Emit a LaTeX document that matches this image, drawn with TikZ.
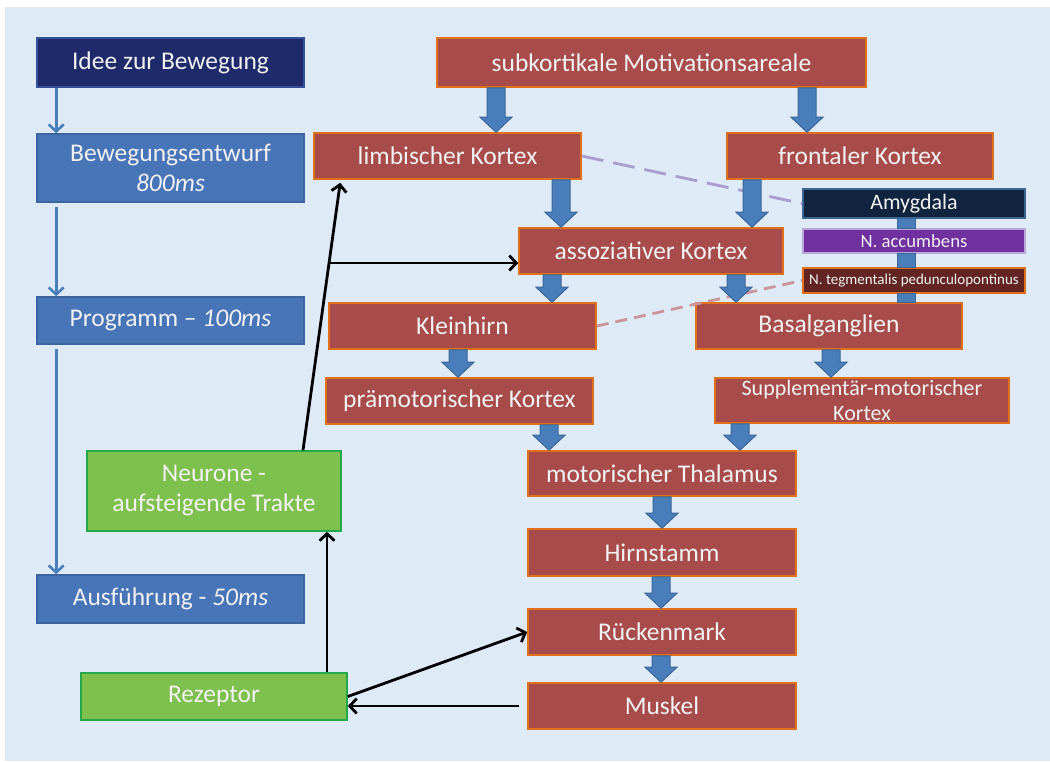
\documentclass[tikz,border=0pt]{standalone}
\usepackage{fontspec}
\setmainfont{Carlito}
\usetikzlibrary{arrows.meta,calc}
\definecolor{panel}{HTML}{DEEAF6}
\definecolor{txt}{HTML}{F2F2F2}
\definecolor{navy}{HTML}{1F2A6A}
\definecolor{navyb}{HTML}{34509A}
\definecolor{bblue}{HTML}{4874B8}
\definecolor{bblueb}{HTML}{3B64A0}
\definecolor{bred}{HTML}{A84B4B}
\definecolor{borange}{HTML}{E0701A}
\definecolor{bgreen}{HTML}{7EC04D}
\definecolor{bgreenb}{HTML}{24A84A}
\definecolor{amygf}{HTML}{11243F}
\definecolor{amygb}{HTML}{3B6694}
\definecolor{accbf}{HTML}{7030A0}
\definecolor{accbb}{HTML}{B8A8D8}
\definecolor{tegmf}{HTML}{632523}
\definecolor{barrowc}{HTML}{4A7EBB}
\definecolor{barrowb}{HTML}{3A6699}
\definecolor{dpurplec}{HTML}{A89CD0}
\definecolor{dpinkc}{HTML}{C9959B}
\newcommand\fA{\fontsize{25.5}{30}\selectfont}
\newcommand\fB{\fontsize{22}{25}\selectfont}
\newcommand\fAm{\fontsize{22}{24}\selectfont}
\newcommand\fAc{\fontsize{18.7}{20}\selectfont}
\newcommand\fTg{\fontsize{15}{17}\selectfont}
\newcommand\barrow[3]{%
 \filldraw[barrowsty] let \p1=(#1.south), \p2=(#2.north) in
 ({#3pt-9pt},{\y1}) -- ({#3pt+9pt},{\y1}) -- ({#3pt+9pt},{\y2+15pt}) -- ({#3pt+16pt},{\y2+15pt}) -- ({#3pt},{\y2}) -- ({#3pt-16pt},{\y2+15pt}) -- ({#3pt-9pt},{\y2+15pt}) -- cycle;}
\tikzset{
 bx/.style={draw, line width=1.6pt, inner sep=0pt, align=center, text=txt, font=\fA},
 bluebox/.style={bx, fill=bblue, draw=bblueb, minimum width=267pt},
 redbox/.style={bx, fill=bred, draw=borange},
 greenbox/.style={bx, fill=bgreen, draw=bgreenb},
 smallbox/.style={bx, minimum width=222pt, line width=1.6pt},
 blk/.style={line width=2.8pt, black, -{Straight Barb[length=7pt,width=15pt]}},
 thinarr/.style={line width=2.6pt, draw=barrowc, -{Straight Barb[length=7pt,width=15pt]}},
 barrowsty/.style={fill=barrowc, draw=barrowb, line width=1pt, line join=miter},
 dpurple/.style={draw=dpurplec, line width=2.8pt, dash pattern=on 22pt off 10pt},
 dpink/.style={draw=dpinkc, line width=2.8pt, dash pattern=on 12pt off 7pt},
}
\begin{document}
\begin{tikzpicture}[x=1pt,y=-1pt]
\useasboundingbox (0,0) rectangle (1050,761);
\fill[white] (0,0) rectangle (1050,761);
\fill[panel] (5,7) rectangle (1050,761);
% left column
\node[bluebox, fill=navy, draw=navyb, minimum height=49pt] (idee) at (170.5,62.5) {Idee zur Bewegung};
\node[bluebox, minimum height=68pt] (bew) at (170.5,168) {Bewegungsentwurf\\\textit{800ms}};
\node[bluebox, minimum height=47pt] (prog) at (170.5,320.5) {Programm -- \textit{100ms}};
\node[bluebox, minimum height=48pt] (ausf) at (170.5,599) {Ausführung - \textit{50ms}};
\node[greenbox, minimum width=254pt, minimum height=80pt] (neur) at (214,491) {Neurone -\\aufsteigende Trakte};
\node[greenbox, minimum width=266pt, minimum height=47pt] (rez) at (214,696.5) {Rezeptor};
% red boxes
\node[redbox, minimum width=429pt, minimum height=49pt] (subk) at (651.5,62.5) {subkortikale Motivationsareale};
\node[redbox, minimum width=267pt, minimum height=46pt] (limb) at (447.5,156) {limbischer Kortex};
\node[redbox, minimum width=266pt, minimum height=46pt] (front) at (860,156) {frontaler Kortex};
\node[redbox, minimum width=264pt, minimum height=46pt] (assoz) at (651,251) {assoziativer Kortex};
\node[redbox, minimum width=267pt, minimum height=46pt] (klein) at (462.5,326) {Kleinhirn};
\node[redbox, minimum width=266pt, minimum height=46pt] (basal) at (829,326) {Basalganglien};
\node[redbox, minimum width=267pt, minimum height=46pt] (praem) at (459.5,401) {prämotorischer Kortex};
\node[redbox, font=\fB, minimum width=294pt, minimum height=45pt] (suppl) at (862,400.5) {Supplementär-motorischer\\Kortex};
\node[redbox, minimum width=268pt, minimum height=45pt] (thal) at (662,473.5) {motorischer Thalamus};
\node[redbox, minimum width=268pt, minimum height=47pt] (hirn) at (662,552.5) {Hirnstamm};
\node[redbox, minimum width=268pt, minimum height=46pt] (rueck) at (662,632) {Rückenmark};
\node[redbox, minimum width=268pt, minimum height=46pt] (musk) at (662,706) {Muskel};
% small boxes
\node[smallbox, fill=amygf, draw=amygb, font=\fAm, minimum height=29pt] (amyg) at (914,203.5) {Amygdala};
\node[smallbox, fill=accbf, draw=accbb, font=\fAc, minimum height=24pt] (accb) at (914,241) {N. accumbens};
\node[smallbox, fill=tegmf, draw=borange, font=\fTg, minimum height=25pt] (tegm) at (914,280.5) {N. tegmentalis pedunculopontinus};
% dashed lines
\draw[dpurple] (limb.east) -- (amyg.west);
\draw[dpink] (klein.east) -- (tegm.west);
% block arrows
\barrow{subk}{limb}{496}
\barrow{subk}{front}{807}
\barrow{limb}{assoz}{561}
\barrow{front}{assoz}{752}
\barrow{assoz}{klein}{552}
\barrow{assoz}{basal}{736}
\barrow{klein}{praem}{458}
\barrow{basal}{suppl}{831}
\barrow{praem}{thal}{549}
\barrow{suppl}{thal}{740}
\barrow{thal}{hirn}{662}
\barrow{hirn}{rueck}{661}
\barrow{rueck}{musk}{661}
% small connectors
\coordinate (cL) at (897,0);
\coordinate (cR) at (915,0);
\filldraw[barrowsty] (amyg.south -| cL) rectangle (accb.north -| cR);
\filldraw[barrowsty] (accb.south -| cL) rectangle (tegm.north -| cR);
\filldraw[barrowsty] (tegm.south -| cL) rectangle (basal.north -| cR);
% thin blue arrows
\draw[thinarr] ([xshift=20pt]idee.south west) -- ([xshift=20pt]bew.north west);
\draw[thinarr] ([xshift=20pt,yshift=-4pt]bew.south west) -- ([xshift=20pt]prog.north west);
\draw[thinarr] ([xshift=20pt,yshift=-4pt]prog.south west) -- ([xshift=20pt]ausf.north west);
% black arrows
\draw[blk] ([xshift=89pt]neur.north) -- ([xshift=27pt,yshift=-3pt]limb.south west);
\path ([xshift=89pt]neur.north) -- ([xshift=27pt,yshift=-3pt]limb.south west) coordinate[pos=0.70] (br);
\draw[blk] (br) -- (br -| assoz.west);
\draw[blk] ([xshift=113pt]rez.north) -- ([xshift=113pt]neur.south);
\draw[blk] (rez.east) -- (rueck.west);
\draw[blk] ([xshift=-8pt]musk.west) -- (rez.east |- musk.west);
\end{tikzpicture}
\end{document}
